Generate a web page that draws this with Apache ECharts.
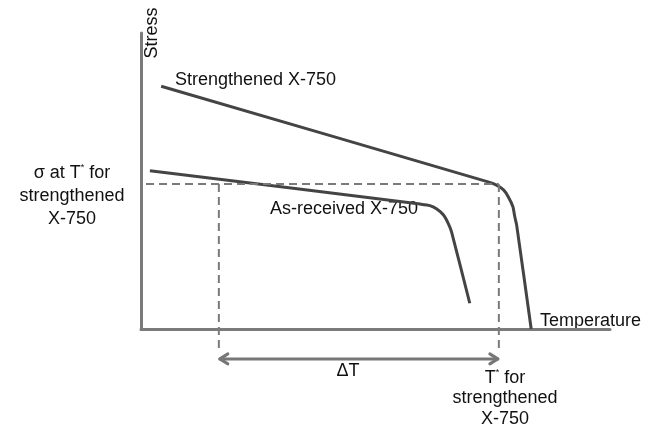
<!DOCTYPE html>
<html>
<head>
<meta charset="utf-8">
<script src="https://cdn.jsdelivr.net/npm/echarts@6/dist/echarts.min.js"></script>
<style>html,body{margin:0;padding:0;background:#fff}#c{width:660px;height:427px}</style>
</head>
<body>
<div id="c"></div>
<script>
// Schematic data (arbitrary units: temperature 0-100, stress 0-100)
const strengthenedT = [4.3, 74.0, 75.8, 77.3, 78.3, 79.3, 79.7, 80.1, 83.2];
const strengthenedS = [82.0, 49.7, 48.6, 47.0, 44.7, 41.3, 37.9, 35.1, 0];
const asReceivedT = [1.9, 59.5, 61.6, 63.0, 64.5, 65.5, 66.2, 70.1];
const asReceivedS = [53.5, 42.2, 41.7, 40.6, 38.5, 35.7, 32.9, 8.7];
const tStar = 76.3;        // T* for strengthened X-750
const tAsReceived = 16.6;  // temperature of as-received at same stress
const sigmaStar = 49.0;    // stress at T* for strengthened
const dashLeft = -1.7;
const dashBottom = -7.1;
const arrowY = -10.1;
const seriesNames = ['Strengthened X-750', 'As-received X-750'];

const zip = (a, b) => a.map((v, i) => [v, b[i]]);
const font = '"Liberation Sans", Arial, sans-serif';
const dashColor = '#7a7a7a';

const chart = echarts.init(document.getElementById('c'));
chart.setOption({
  backgroundColor: '#fff',
  animation: false,
  grid: { left: 141, right: 50, top: 33, bottom: 98 },
  xAxis: {
    type: 'value', min: 0, max: 100,
    axisLine: { show: true, onZero: false, lineStyle: { color: '#7b7b7b', width: 3 } },
    axisTick: { show: false }, axisLabel: { show: false }, splitLine: { show: false }
  },
  yAxis: {
    type: 'value', min: 0, max: 100,
    axisLine: { show: true, onZero: false, lineStyle: { color: '#7b7b7b', width: 3 } },
    axisTick: { show: false }, axisLabel: { show: false }, splitLine: { show: false }
  },
  series: [
    {
      name: seriesNames[0], type: 'line', data: zip(strengthenedT, strengthenedS),
      showSymbol: false, smooth: 0.2, clip: false,
      lineStyle: { color: '#444', width: 3 }
    },
    {
      name: seriesNames[1], type: 'line', data: zip(asReceivedT, asReceivedS),
      showSymbol: false, smooth: 0.2, clip: false,
      lineStyle: { color: '#444', width: 3 }
    },
    {
      type: 'line', data: [[dashLeft, sigmaStar], [tStar, sigmaStar]],
      showSymbol: false, clip: false,
      lineStyle: { color: dashColor, width: 2, type: [8, 5] }
    },
    {
      type: 'line', data: [[tAsReceived, sigmaStar], [tAsReceived, dashBottom]],
      showSymbol: false, clip: false,
      lineStyle: { color: dashColor, width: 2, type: [8, 5] }
    },
    {
      type: 'line', data: [[tStar, sigmaStar], [tStar, dashBottom]],
      showSymbol: false, clip: false,
      lineStyle: { color: dashColor, width: 2, type: [8, 5] }
    },
    {
      type: 'custom', clip: false, silent: true,
      data: [[tAsReceived, tStar, arrowY]],
      renderItem: function (params, api) {
        const a = api.coord([api.value(0), api.value(2)]);
        const b = api.coord([api.value(1), api.value(2)]);
        const ah = 9, aw = 5;
        const st = { stroke: '#777', lineWidth: 3, fill: null, lineCap: 'round', lineJoin: 'round' };
        return {
          type: 'group',
          children: [
            { type: 'line', shape: { x1: a[0] + 1, y1: a[1], x2: b[0] - 1, y2: b[1] }, style: st },
            { type: 'polyline', shape: { points: [[a[0] + ah, a[1] - aw], [a[0] + 1, a[1]], [a[0] + ah, a[1] + aw]] }, style: st },
            { type: 'polyline', shape: { points: [[b[0] - ah, b[1] - aw], [b[0] - 1, b[1]], [b[0] - ah, b[1] + aw]] }, style: st }
          ]
        };
      }
    }
  ],
  graphic: [
    { type: 'text', x: 152, y: 33, rotation: Math.PI / 2,
      style: { text: 'Stress', font: '18px ' + font, fill: '#111', align: 'center', verticalAlign: 'middle' } },
    { type: 'text', x: 540, y: 321,
      style: { text: 'Temperature', font: '18px ' + font, fill: '#111', align: 'left', verticalAlign: 'middle' } },
    { type: 'text', x: 175, y: 80,
      style: { text: seriesNames[0], font: '18px ' + font, fill: '#111', align: 'left', verticalAlign: 'middle' } },
    { type: 'text', x: 270, y: 209,
      style: { text: seriesNames[1], font: '18px ' + font, fill: '#111', align: 'left', verticalAlign: 'middle' } },
    { type: 'text', x: 348, y: 371,
      style: { text: 'ΔT', font: '18px ' + font, fill: '#111', align: 'center', verticalAlign: 'middle' } },
    { type: 'text', x: 72, y: 173,
      style: { text: '{t|σ at T}{s|*}{t| for}', align: 'center', verticalAlign: 'middle',
        rich: { t: { font: '18px ' + font, fill: '#111' }, s: { font: '9px ' + font, fill: '#111', padding: [0, 0, 10, 0] } } } },
    { type: 'text', x: 72, y: 196,
      style: { text: 'strengthened', font: '18px ' + font, fill: '#111', align: 'center', verticalAlign: 'middle' } },
    { type: 'text', x: 72, y: 219,
      style: { text: 'X-750', font: '18px ' + font, fill: '#111', align: 'center', verticalAlign: 'middle' } },
    { type: 'text', x: 505, y: 378,
      style: { text: '{t|T}{s|*}{t| for}', align: 'center', verticalAlign: 'middle',
        rich: { t: { font: '18px ' + font, fill: '#111' }, s: { font: '9px ' + font, fill: '#111', padding: [0, 0, 10, 0] } } } },
    { type: 'text', x: 505, y: 398,
      style: { text: 'strengthened', font: '18px ' + font, fill: '#111', align: 'center', verticalAlign: 'middle' } },
    { type: 'text', x: 505, y: 419,
      style: { text: 'X-750', font: '18px ' + font, fill: '#111', align: 'center', verticalAlign: 'middle' } }
  ]
});
</script>
</body>
</html>
